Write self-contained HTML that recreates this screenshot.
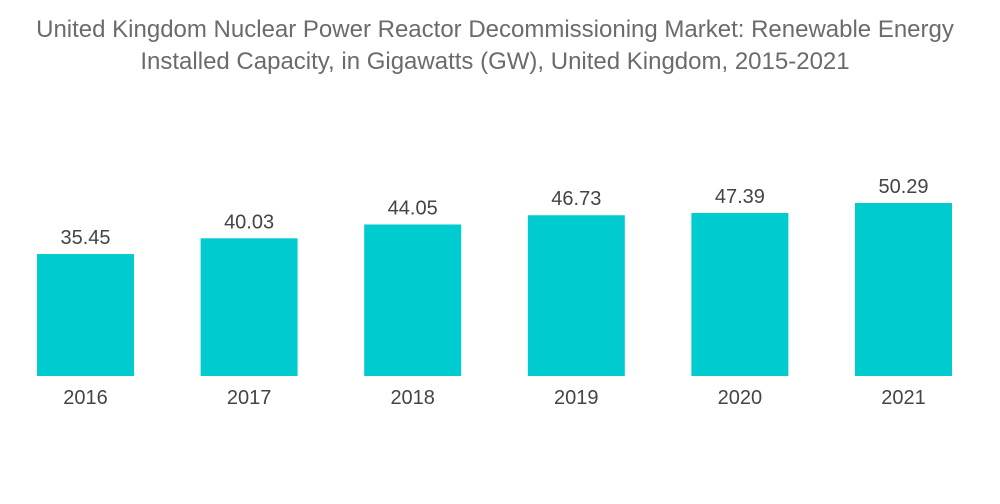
<!DOCTYPE html>
<html><head><meta charset="utf-8"><style>
html,body{margin:0;padding:0;background:#fff;}
body{width:1000px;height:504px;overflow:hidden;font-family:"Liberation Sans",sans-serif;}
.title{position:absolute;left:0;top:14px;width:990px;text-align:center;color:#6b6b6b;font-size:24px;line-height:32px;}
</style></head><body>
<div class="title">United Kingdom Nuclear Power Reactor Decommissioning Market: Renewable Energy<br>Installed Capacity, in Gigawatts (GW), United Kingdom, 2015-2021</div>
<svg id="chart" width="1000" height="504" style="position:absolute;left:0;top:0"></svg>
<script>
const categories = ["2016","2017","2018","2019","2020","2021"];
const values = [35.45,40.03,44.05,46.73,47.39,50.29];
const labels = ["35.45","40.03","44.05","46.73","47.39","50.29"];
const svg = document.getElementById('chart');
const NS = 'http://www.w3.org/2000/svg';
const baseY = 376, pxPerUnit = 3.44, x0 = 37, step = 163.6, bw = 97;
function xPos(i){return x0 + i*step;}
function yPos(v){return baseY - v*pxPerUnit;}
categories.forEach((c,i)=>{
  const r = document.createElementNS(NS,'rect');
  r.setAttribute('x',xPos(i));r.setAttribute('y',yPos(values[i]));
  r.setAttribute('width',bw);r.setAttribute('height',baseY-yPos(values[i]));
  r.setAttribute('fill','#00ccd0');
  
  
  svg.appendChild(r);
  const t = document.createElementNS(NS,'text');
  t.setAttribute('x',xPos(i)+bw/2);t.setAttribute('y',yPos(values[i])-10);
  t.setAttribute('text-anchor','middle');t.setAttribute('font-size','20');t.setAttribute('fill','#444');
  t.setAttribute('font-family','Liberation Sans, sans-serif');
  t.textContent = labels[i];
  
  
  svg.appendChild(t);
  const a = document.createElementNS(NS,'text');
  a.setAttribute('x',xPos(i)+bw/2);a.setAttribute('y',404);
  a.setAttribute('text-anchor','middle');a.setAttribute('font-size','20');a.setAttribute('fill','#444');
  a.setAttribute('font-family','Liberation Sans, sans-serif');
  a.textContent = c;
  
  
  svg.appendChild(a);
});
</script>
</body></html>
